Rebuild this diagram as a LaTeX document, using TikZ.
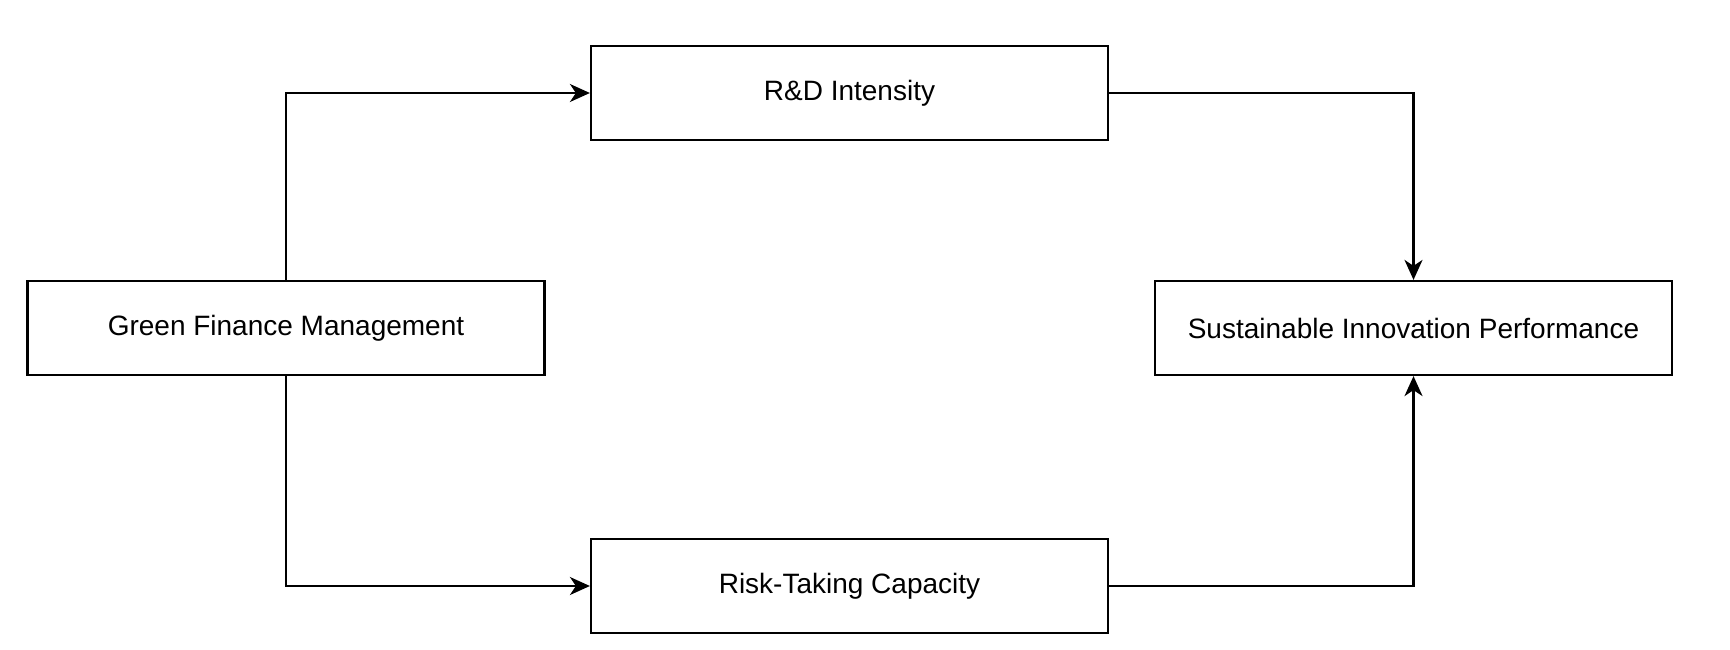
\documentclass[tikz,border=0pt]{standalone}
\usepackage{fontspec}
\setmainfont{Liberation Sans}
\usepackage{tikz}
\usepackage{xcolor}
\usetikzlibrary{arrows.meta}
\tikzset{%
  tipA/.tip={Stealth[length=20pt,width=18pt,inset=6pt]},
  varbox/.style={draw=black, line width=2.2pt, minimum width=517pt, minimum height=94pt,
    inner sep=0pt, font=\fontsize{28}{33}\selectfont},
  link/.style={line width=2.2pt, -tipA}
}

\begin{document}
\begin{tikzpicture}[x=1pt,y=-1pt]

\useasboundingbox (0,0) rectangle (1730,650);

\node[varbox] (rd)   at (849.5,93)  {R\&D Intensity};
\node[varbox] (gfm)  at (286,328)   {Green Finance Management};
\node[varbox] (sip)  at (1413.5,328) {Sustainable Innovation Performance};
\node[varbox] (risk) at (849.5,586) {Risk-Taking Capacity};

\draw[link] (gfm.north) |- (rd.west);
\draw[link] (gfm.south) |- (risk.west);
\draw[link] (rd.east) -| (sip.north);
\draw[link] (risk.east) -| (sip.south);
\end{tikzpicture}
\end{document}
